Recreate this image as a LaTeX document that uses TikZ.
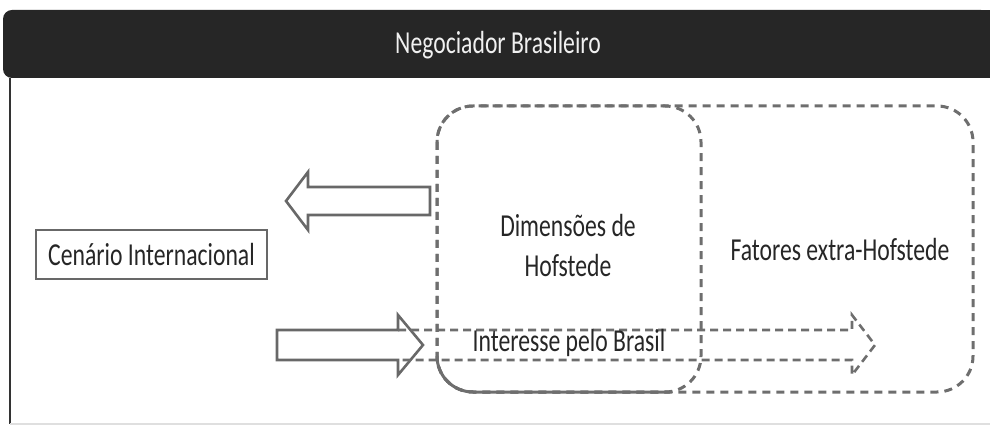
\documentclass[tikz,border=0pt]{standalone}
\usepackage{fontspec}
\setmainfont{Carlito}[FakeStretch=0.74]

\definecolor{barra}{HTML}{262626}
\definecolor{tracejado}{HTML}{6E6E6E}
\definecolor{contorno}{HTML}{686868}

\begin{document}
\begin{tikzpicture}[x=1pt,y=-1pt,
  rotulo/.style={font=\fontsize{32}{40}\selectfont, text=black!85, align=center},
  caixa/.style={draw=tracejado, line width=3pt, dash pattern=on 8pt off 6pt, rounded corners=36pt},
  seta/.style={draw=contorno, line width=2.6pt, fill=white, line join=miter},
  setatrac/.style={draw=tracejado, line width=2.6pt, dash pattern=on 8pt off 5pt}]
  \useasboundingbox (0,0) rectangle (990,427);
  % faixa do titulo
  \fill[barra, rounded corners=9pt] (3,10) rectangle (990,78);
  \fill[barra] (900,10) rectangle (990,78);
  \node[rotulo, text=white!94!black] (titulo) at (498,45) {Negociador Brasileiro};
  % moldura
  \draw[black!80, line width=2pt] (10,78) -- (10,424);
  \draw[gray!25, line width=1.5pt] (10,424) -- (990,424);
  % caixas tracejadas
  \draw[caixa] (437,106) rectangle (973,392);
  \draw[caixa] (437,106) rectangle (701,392);
  \draw[caixa, solid] (437,356) -- (437,392) -- (670,392);
  % setas
  \draw[seta] (430,187) -- (308,187) -- (308,172) -- (286,201) -- (308,230) -- (308,215) -- (430,215) -- cycle;
  \draw[seta] (277,330) -- (398,330) -- (398,315) -- (423,345) -- (398,375) -- (398,360) -- (277,360) -- cycle;
  \draw[setatrac] (398,330) -- (852,330) -- (852,315) -- (875,345) -- (852,375) -- (852,360) -- (398,360);
  % textos
  \node[rotulo, draw=contorno, line width=2.5pt, minimum width=231pt, minimum height=49pt] (cenario) at (151.5,254.5) {Cenário Internacional};
  \node[rotulo] (dimensoes) at (568,246) {Dimensões de\\Hofstede};
  \node[rotulo] (fatores) at (840,250) {Fatores extra-Hofstede};
  \node[rotulo] (interesse) at (569,343) {Interesse pelo Brasil};
\end{tikzpicture}
\end{document}
